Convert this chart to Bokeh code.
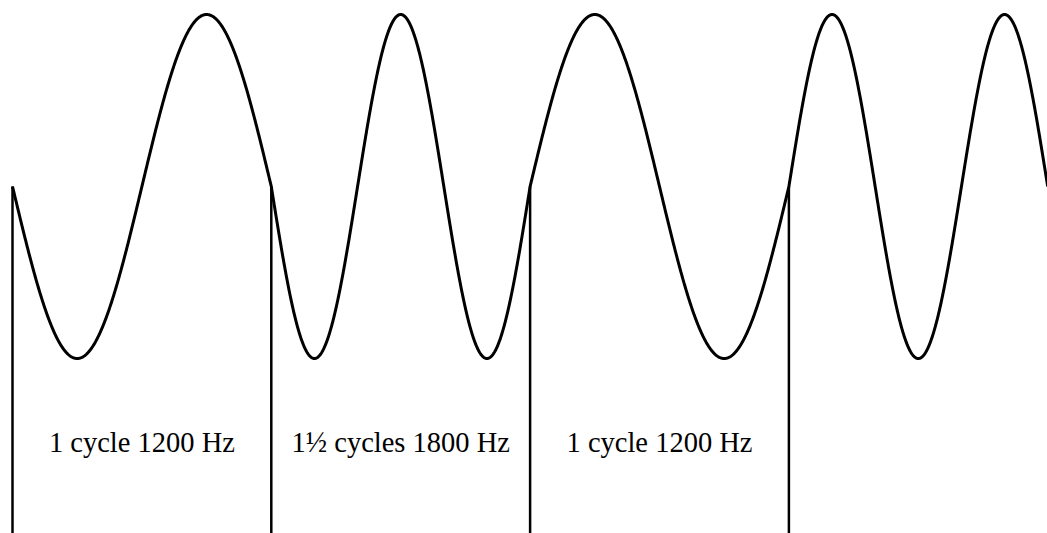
import numpy as np
from bokeh.plotting import figure
from bokeh.models import Range1d
from bokeh.embed import file_html
from bokeh.resources import INLINE
from bokeh.core.properties import value

# ---- data ----
segment_freqs_hz = [1200, 1800, 1200, 1800]
segment_cycles = [1.0, 1.5, 1.0, 1.5]
segment_labels = ["1 cycle 1200 Hz", "1\u00bd cycles 1800 Hz", "1 cycle 1200 Hz", ""]
labeled_segments = 3

# ---- build phase-continuous FSK waveform (time in ms) ----
ts, ys = [], []
bounds = [0.0]
phase = 0.0
t_start = 0.0
for f, c in zip(segment_freqs_hz, segment_cycles):
    dur = c / f * 1000.0
    t = np.linspace(0.0, dur, 600)
    ys.append(-np.sin(phase + 2 * np.pi * f / 1000.0 * t))
    ts.append(t_start + t)
    phase += 2 * np.pi * c
    t_start += dur
    bounds.append(t_start)
t_all = np.concatenate(ts)
y_all = np.concatenate(ys)

# ---- layout ----
W, H = 1047, 533
px_per_ms = 258.8 / (1000.0 / 1200)
x0_px = 12.0
cy_px = 186.0
amp_px = 172.0
xr = Range1d(-x0_px / px_per_ms, (W - x0_px) / px_per_ms)
yr = Range1d(-(H - cy_px) / amp_px, cy_px / amp_px)

p = figure(width=W, height=H, x_range=xr, y_range=yr, output_backend="svg",
           toolbar_location=None, x_axis_location=None, y_axis_location=None,
           min_border=0, outline_line_color=None, background_fill_color="white",
           border_fill_color="white")
p.xgrid.visible = False
p.ygrid.visible = False

p.line(t_all, y_all, line_color="black", line_width=3, line_join="round")

bx = bounds[:4]
p.segment(x0=bx, y0=[0.0] * len(bx), x1=bx, y1=[yr.start - 0.2] * len(bx),
          line_color="black", line_width=2.5)

mids = [(bounds[i] + bounds[i + 1]) / 2 for i in range(labeled_segments)]
label_y = (cy_px - 441.7) / amp_px
p.text(x=mids, y=[label_y] * len(mids), text=segment_labels[:labeled_segments],
       text_align="center", text_baseline="alphabetic",
       text_font=value("Liberation Serif"), text_font_size="28.5px",
       text_color="black")

open("out.html", "w").write(file_html(p, INLINE))
